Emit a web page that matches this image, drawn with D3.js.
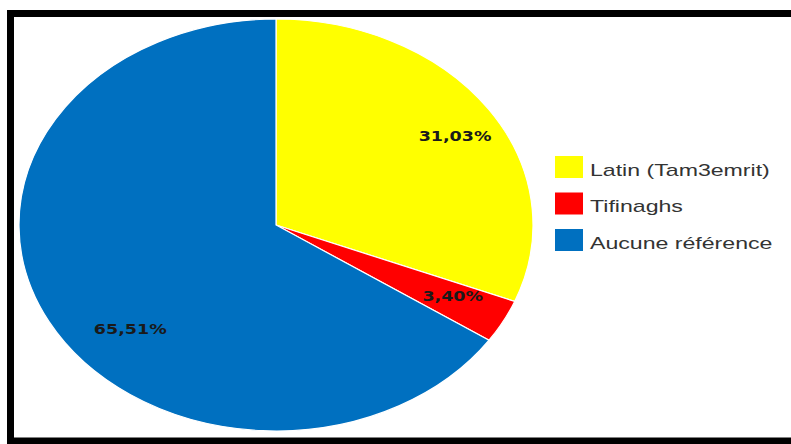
<!DOCTYPE html>
<html>
<head>
<meta charset="utf-8">
<script src="https://cdn.jsdelivr.net/npm/d3@7"></script>
<style>
  body { margin: 0; background: #fff; }
  svg { display: block; }
</style>
</head>
<body>
<div id="chart"></div>
<script>
// slice values, clockwise from 12 o'clock
const categories = ["Latin (Tam3emrit)", "Tifinaghs", "Aucune référence"];
const values = [31.03, 3.40, 65.51];
const valueLabels = ["31,03%", "3,40%", "65,51%"];
const colors = ["#ffff00", "#ff0000", "#0070c0"];

const width = 791, height = 444;
const cx = 276, cy = 225;
const rx = 257, ry = 206;   // the picture is stretched sideways
const sx = rx / ry;

const svg = d3.select("#chart").append("svg")
    .attr("width", width)
    .attr("height", height);

svg.append("rect")
    .attr("x", 10.5).attr("y", 13.5)
    .attr("width", 800).attr("height", 427.5)
    .attr("fill", "#fff")
    .attr("stroke", "#000")
    .attr("stroke-width", 7);

const pie = d3.pie().sort(null).value(d => d)(values);
const arc = d3.arc().innerRadius(0).outerRadius(ry);

const g = svg.append("g")
    .attr("transform", `translate(${cx},${cy}) scale(${sx},1)`);

g.selectAll("path")
    .data(pie)
    .join("path")
    .attr("d", arc)
    .attr("fill", (d, i) => colors[i])
    .attr("stroke", "#fff")
    .attr("stroke-width", 1.2)
    .attr("vector-effect", "non-scaling-stroke");

// value labels, placed like Excel's best-fit
const labelR = [0.82, 0.77, 0.76];
const labelShift = [0.04, -0.02, -0.24];
svg.append("g").selectAll("text")
    .data(pie)
    .join("text")
    .attr("transform", (d, i) => {
        const a = (d.startAngle + d.endAngle) / 2 + labelShift[i];
        const x = cx + Math.sin(a) * ry * labelR[i] * sx;
        const y = cy - Math.cos(a) * ry * labelR[i];
        return `translate(${x},${y}) scale(1.25,1)`;
    })
    .attr("text-anchor", "middle")
    .attr("dy", "0.36em")
    .attr("font-family", "DejaVu Sans, sans-serif")
    .attr("font-weight", "bold")
    .attr("font-size", 14)
    .attr("fill", "#1a1a1a")
    .text((d, i) => valueLabels[i]);

// legend
const legend = svg.append("g").attr("transform", "translate(555,156)");
const item = legend.selectAll("g")
    .data(categories)
    .join("g")
    .attr("transform", (d, i) => `translate(0,${i * 36.5})`);

item.append("rect")
    .attr("width", 28).attr("height", 22)
    .attr("fill", (d, i) => colors[i]);

item.append("text")
    .attr("transform", "translate(35,19.5) scale(1.36,1)")
    .attr("font-family", "Liberation Sans, Arial, sans-serif")
    .attr("font-size", 17)
    .attr("fill", "#333")
    .text(d => d);
</script>
</body>
</html>
